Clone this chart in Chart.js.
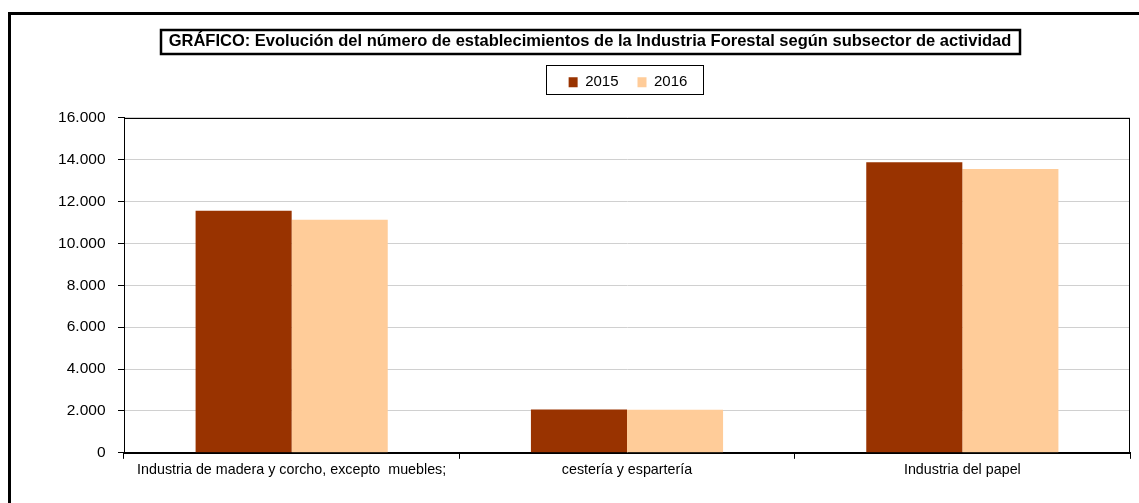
<!DOCTYPE html>
<html>
<head>
<meta charset="utf-8">
<script src="https://cdn.jsdelivr.net/npm/chart.js@4/dist/chart.umd.min.js"></script>
<style>
    html, body { margin: 0; padding: 0; background: #fff; }
    #wrap { position: relative; width: 1139px; height: 503px; overflow: hidden; }
</style>
</head>
<body>
<div id="wrap"><canvas id="forestChart" width="1139" height="503"></canvas></div>
<script>
// Chart data
const categories = [
    'Industria de madera y corcho, excepto  muebles;',
    'cestería y espartería',
    'Industria del papel'
];
const seriesLabels = ['2015', '2016'];
const values2015 = [11560, 2070, 13880];
const values2016 = [11130, 2060, 13550];
const seriesColors = ['#993300', '#FFCC99'];
const yTicks = { min: 0, max: 16000, step: 2000 };
const chartTitle = 'GRÁFICO: Evolución del número de establecimientos de la Industria Forestal según subsector de actividad';

const FONT = '"Liberation Sans", Arial, sans-serif';
const TITLE_SHIFT = 25;
const LEGEND_SHIFT = 63;

// Format numbers with dot as thousands separator
function formatThousands(value) {
    return value.toString().replace(/\B(?=(\d{3})+(?!\d))/g, '.');
}

// Draws outer frame, boxes around title & legend, and plot border
const framePlugin = {
    id: 'framePlugin',
    beforeInit(chart) {
        // add space below the legend
        const legend = chart.legend;
        if (legend) {
            const origFit = legend.fit;
            legend.fit = function () {
                origFit.call(this);
                this.height += 18;
            };
        }
    },
    afterLayout(chart) {
        // nudge title and legend to the right like the original
        if (chart.titleBlock) {
            chart.titleBlock.left += TITLE_SHIFT;
            chart.titleBlock.right += TITLE_SHIFT;
        }
        if (chart.legend) {
            chart.legend.left += LEGEND_SHIFT;
            chart.legend.right += LEGEND_SHIFT;
        }
    },
    beforeDraw(chart) {
        const ctx = chart.ctx;
        ctx.save();
        ctx.strokeStyle = '#000';
        ctx.lineWidth = 3;
        ctx.strokeRect(9.5, 13.5, 1140, 500);
        ctx.restore();
    },
    afterDraw(chart) {
        const ctx = chart.ctx;
        const area = chart.chartArea;
        ctx.save();

        // plot area border
        ctx.strokeStyle = '#000';
        ctx.lineWidth = 1;
        ctx.strokeRect(Math.round(area.left) + 0.5, Math.round(area.top) + 0.5,
            Math.round(area.right - area.left) - 1, Math.round(area.bottom - area.top));

        // title box
        const tb = chart.titleBlock;
        if (tb) {
            ctx.font = 'bold 16.5px ' + FONT;
            const w = ctx.measureText(chartTitle).width + 16;
            const cx = (tb.left + tb.right) / 2;
            const cy = 41.5;
            ctx.lineWidth = 2.5;
            ctx.strokeRect(Math.round(cx - w / 2), Math.round(cy - 12), Math.round(w), 24);
        }

        // legend box
        const lg = chart.legend;
        if (lg && lg.legendHitBoxes && lg.legendHitBoxes.length) {
            const boxes = lg.legendHitBoxes;
            const left = Math.min(...boxes.map(b => b.left));
            const right = Math.max(...boxes.map(b => b.left + b.width));
            ctx.lineWidth = 1;
            ctx.strokeStyle = '#000';
            ctx.strokeRect(Math.round(left - 23) + 0.5, 65.5, Math.round(right - left + 38), 29);
        }
        ctx.restore();
    }
};

const ctx = document.getElementById('forestChart').getContext('2d');

const forestChart = new Chart(ctx, {
    type: 'bar',
    data: {
        labels: categories,
        datasets: [
            {
                label: seriesLabels[0],
                data: values2015,
                backgroundColor: seriesColors[0],
                borderWidth: 0,
                categoryPercentage: 0.573,
                barPercentage: 1.0
            },
            {
                label: seriesLabels[1],
                data: values2016,
                backgroundColor: seriesColors[1],
                borderWidth: 0,
                categoryPercentage: 0.573,
                barPercentage: 1.0
            }
        ]
    },
    options: {
        responsive: false,
        animation: false,
        layout: {
            padding: { top: 0, right: 9, bottom: 21, left: 0 }
        },
        plugins: {
            title: {
                display: true,
                text: chartTitle,
                color: '#000',
                font: { family: FONT, size: 16.5, weight: 'bold' },
                padding: { top: 32, bottom: 4 }
            },
            legend: {
                display: true,
                position: 'top',
                labels: {
                    color: '#000',
                    font: { family: FONT, size: 15 },
                    boxWidth: 9,
                    boxHeight: 10,
                    padding: 19
                }
            },
            tooltip: { enabled: false }
        },
        scales: {
            x: {
                grid: {
                    display: true,
                    drawOnChartArea: false,
                    drawTicks: true,
                    tickLength: 6,
                    tickColor: '#000'
                },
                border: { display: true, color: '#000', width: 1 },
                ticks: {
                    color: '#000',
                    font: { family: FONT, size: 14.3 },
                    padding: 3,
                    maxRotation: 0,
                    autoSkip: false
                }
            },
            y: {
                min: yTicks.min,
                max: yTicks.max,
                afterFit(scale) {
                    scale.width = 124;
                },
                ticks: {
                    stepSize: yTicks.step,
                    color: '#000',
                    font: { family: FONT, size: 15.5 },
                    padding: 12.5,
                    callback: function (value) {
                        return formatThousands(value);
                    }
                },
                grid: {
                    color: '#d0d0d0',
                    lineWidth: 1,
                    tickLength: 6,
                    tickColor: '#000'
                },
                border: { display: true, color: '#000', width: 1 }
            }
        }
    },
    plugins: [framePlugin]
});
</script>
</body>
</html>
